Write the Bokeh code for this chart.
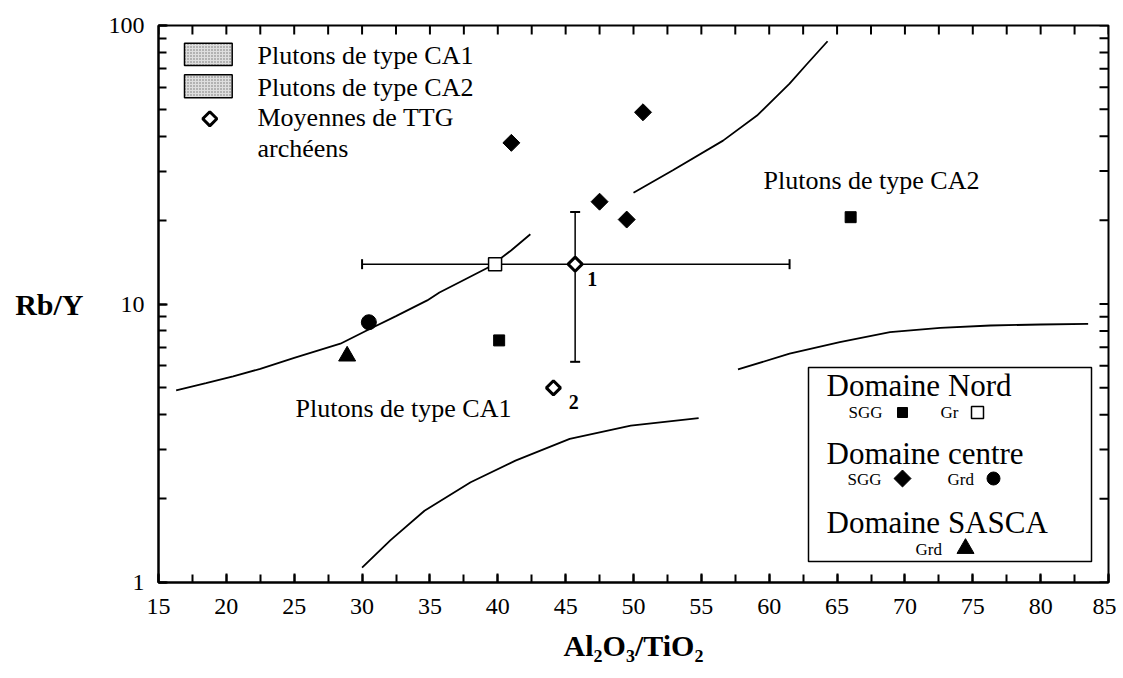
import numpy as np
from bokeh.plotting import figure
from bokeh.models import (Range1d, SingleIntervalTicker, LogTicker,
                          PrintfTickFormatter, Label, Whisker, TeeHead, ColumnDataSource)
from bokeh.embed import file_html
from bokeh.resources import INLINE

# ---------------- data ----------------
SGG_NORD_X = [66.0, 40.1]
SGG_NORD_Y = [20.5, 7.4]
GR_NORD_X = [39.8]
GR_NORD_Y = [13.9]
SGG_CENTRE_X = [41.0, 50.7, 47.5, 49.5]
SGG_CENTRE_Y = [37.9, 48.8, 23.3, 20.1]
GRD_CENTRE_X = [30.5]
GRD_CENTRE_Y = [8.6]
GRD_SASCA_X = [28.9]
GRD_SASCA_Y = [6.5]
TTG_X = [45.7, 44.1]
TTG_Y = [13.9, 5.0]
TTG_LABELS = ["1", "2"]
TTG1_X_LO, TTG1_X_HI = [30.0], [61.5]
TTG1_Y_LO, TTG1_Y_HI = [6.2], [21.4]

# boundary curves
CA1_UP_X = [16.3, 18.5, 20.5, 22.5, 25.0, 28.4, 30.6, 32.5, 34.8, 35.7, 37.5, 39.4, 41.0, 42.4]
CA1_UP_Y = [4.9, 5.2, 5.5, 5.85, 6.4, 7.2, 8.15, 9.05, 10.3, 11.0, 12.2, 13.6, 15.6, 17.8]
CA2_UP_X = [50.0, 52.9, 56.6, 59.1, 61.5, 62.8, 64.3]
CA2_UP_Y = [25.1, 30.2, 38.6, 47.5, 61.8, 72.9, 87.8]
CA2_LO_X = [57.7, 61.5, 65.2, 68.9, 72.6, 76.3, 80.0, 83.5]
CA2_LO_Y = [5.82, 6.63, 7.29, 7.92, 8.21, 8.37, 8.44, 8.49]
CA1_LO_X = [30.0, 32.1, 34.6, 38.0, 41.3, 45.3, 49.8, 54.8]
CA1_LO_Y = [1.13, 1.42, 1.81, 2.29, 2.74, 3.28, 3.66, 3.89]

# tick positions mirrored on the top and right frame edges
X_TICKS_ALL = [15 + 2.5 * i for i in range(29)]
Y_TICKS_ALL = [m * 10 ** d for d in range(2) for m in range(1, 10)] + [100]

X_TICK_STEP = 5
X_TITLE = "Al\u2082O\u2083/TiO\u2082"
Y_TITLE = "Rb/Y"
FONT = "Liberation Serif"

# ---------------- figure ----------------
p = figure(width=1116, height=676, x_range=Range1d(15, 85), y_range=Range1d(1, 100),
           y_axis_type="log", output_backend="svg", toolbar_location=None,
           min_border_left=158, min_border_right=8, min_border_top=25, min_border_bottom=94)
p.background_fill_color = "white"
p.border_fill_color = "white"
p.outline_line_color = "black"
p.outline_line_width = 2
p.xgrid.visible = False
p.ygrid.visible = False


def style_axis(ax):
    ax.axis_line_color = "black"
    ax.axis_line_width = 2
    ax.major_tick_line_color = "black"
    ax.major_tick_line_width = 2
    ax.minor_tick_line_color = "black"
    ax.minor_tick_line_width = 2
    ax.major_tick_in = 9
    ax.major_tick_out = 0
    ax.minor_tick_in = 8
    ax.minor_tick_out = 0
    ax.major_label_text_font = FONT
    ax.major_label_text_font_size = "24px"
    ax.major_label_text_color = "black"
    ax.axis_label_text_font = FONT
    ax.axis_label_text_font_size = "30px"
    ax.axis_label_text_font_style = "bold"
    ax.axis_label_text_color = "black"


xb = p.xaxis[0]
xb.ticker = SingleIntervalTicker(interval=X_TICK_STEP, num_minor_ticks=2)
style_axis(xb)
xb.major_label_standoff = 16
xb.axis_label = X_TITLE
xb.axis_label_standoff = 12

yl = p.yaxis[0]
yl.ticker = LogTicker(num_minor_ticks=10)
yl.formatter = PrintfTickFormatter(format="%d")
style_axis(yl)
yl.major_label_standoff = 14
yl.axis_label = Y_TITLE
yl.axis_label_standoff = 22
try:
    yl.axis_label_orientation = "horizontal"
except Exception:
    pass

# mirrored inner ticks on top and right edges (half of each dash is clipped by the frame)
p.scatter(X_TICKS_ALL, [100] * len(X_TICKS_ALL), marker="dash", angle=np.pi / 2, size=18,
          line_color="black", line_width=2)
p.scatter([85] * len(Y_TICKS_ALL), Y_TICKS_ALL, marker="dash", size=18,
          line_color="black", line_width=2)


# pixel helpers for annotation placement (page pixels -> data)
def dx(px):
    return 15 + (px - 158.0) / (950.0 / 70.0)


def dy(py):
    return 10 ** (2 - (py - 25.0) / 278.5)


# ---------------- curves ----------------
for cx, cy in [(CA1_UP_X, CA1_UP_Y), (CA2_UP_X, CA2_UP_Y), (CA2_LO_X, CA2_LO_Y), (CA1_LO_X, CA1_LO_Y)]:
    p.line(cx, cy, line_color="black", line_width=1.8)

# ---------------- error bars ----------------
err = ColumnDataSource(dict(x=[TTG_X[0]], y=[TTG_Y[0]], xlo=TTG1_X_LO, xhi=TTG1_X_HI,
                            ylo=TTG1_Y_LO, yhi=TTG1_Y_HI))
p.add_layout(Whisker(source=err, base="y", lower="xlo", upper="xhi", dimension="width",
                     line_width=1.5, line_color="black", level="underlay",
                     lower_head=TeeHead(size=10, line_width=2, line_color="black"),
                     upper_head=TeeHead(size=10, line_width=2, line_color="black")))
p.add_layout(Whisker(source=err, base="x", lower="ylo", upper="yhi", dimension="height",
                     line_width=1.5, line_color="black", level="underlay",
                     lower_head=TeeHead(size=10, line_width=2, line_color="black"),
                     upper_head=TeeHead(size=10, line_width=2, line_color="black")))

# ---------------- points ----------------
p.scatter(SGG_NORD_X, SGG_NORD_Y, marker="square", size=11, color="black")
p.scatter(GR_NORD_X, GR_NORD_Y, marker="square", size=13, fill_color="white",
          line_color="black", line_width=1.5)
p.scatter(SGG_CENTRE_X, SGG_CENTRE_Y, marker="square", angle=np.pi / 4, size=12, color="black")
p.scatter(GRD_CENTRE_X, GRD_CENTRE_Y, marker="circle", size=15, color="black")
p.scatter(GRD_SASCA_X, GRD_SASCA_Y, marker="triangle", size=17, color="black")
p.scatter(TTG_X, TTG_Y, marker="square", angle=np.pi / 4, size=10, fill_color="white",
          line_color="black", line_width=3)

for lbl, (ox, oy) in zip(TTG_LABELS, [(591.7, 278.3), (573.3, 401.7)]):
    p.add_layout(Label(x=dx(ox), y=dy(oy), text=lbl, text_font=FONT, text_font_size="20px",
                       text_font_style="bold", text_align="center", text_baseline="middle",
                       text_color="black"))


# ---------------- field labels ----------------
def txt(text, px, py, size="26px", align="left", style="normal"):
    p.add_layout(Label(x=dx(px), y=dy(py), text=text, text_font=FONT, text_font_size=size,
                       text_font_style=style, text_align=align, text_baseline="middle",
                       text_color="black"))


txt("Plutons de type CA2", 763, 180)
txt("Plutons de type CA1", 295, 408)

# ---------------- upper-left legend ----------------
for top, bot in [(42.7, 65.0), (74.3, 97.3)]:
    p.quad(left=dx(184), right=dx(231.7), top=dy(top), bottom=dy(bot),
           fill_color="#dedede", hatch_pattern="dot", hatch_scale=3, hatch_color="black",
           hatch_alpha=0.5, line_color="black", line_width=1.5)
p.scatter([dx(209.3)], [dy(118.3)], marker="square", angle=np.pi / 4, size=10,
          fill_color="white", line_color="black", line_width=3)
txt("Plutons de type CA1", 257, 55)
txt("Plutons de type CA2", 257, 86.7)
txt("Moyennes de TTG", 257, 116.7)
txt("archéens", 257, 148.3)

# ---------------- lower-right legend ----------------
p.quad(left=dx(808), right=dx(1091), top=dy(367), bottom=dy(561), fill_color="white",
       line_color="black", line_width=1.5)
txt("Domaine Nord", 826, 385, size="31px")
txt("SGG", 848, 412, size="17px")
p.scatter([dx(902)], [dy(412)], marker="square", size=10, color="black")
txt("Gr", 940, 412, size="17px")
p.scatter([dx(977)], [dy(412)], marker="square", size=12, fill_color="white",
          line_color="black", line_width=1.5)
txt("Domaine centre", 826, 453, size="31px")
txt("SGG", 847, 479, size="17px")
p.scatter([dx(902)], [dy(478)], marker="square", angle=np.pi / 4, size=12, color="black")
txt("Grd", 947, 479, size="17px")
p.scatter([dx(993)], [dy(478)], marker="circle", size=13, color="black")
txt("Domaine SASCA", 826, 522, size="31px")
txt("Grd", 915, 549, size="17px")
p.scatter([dx(965)], [dy(548)], marker="triangle", size=17, color="black")

open("out.html", "w").write(file_html(p, INLINE))
